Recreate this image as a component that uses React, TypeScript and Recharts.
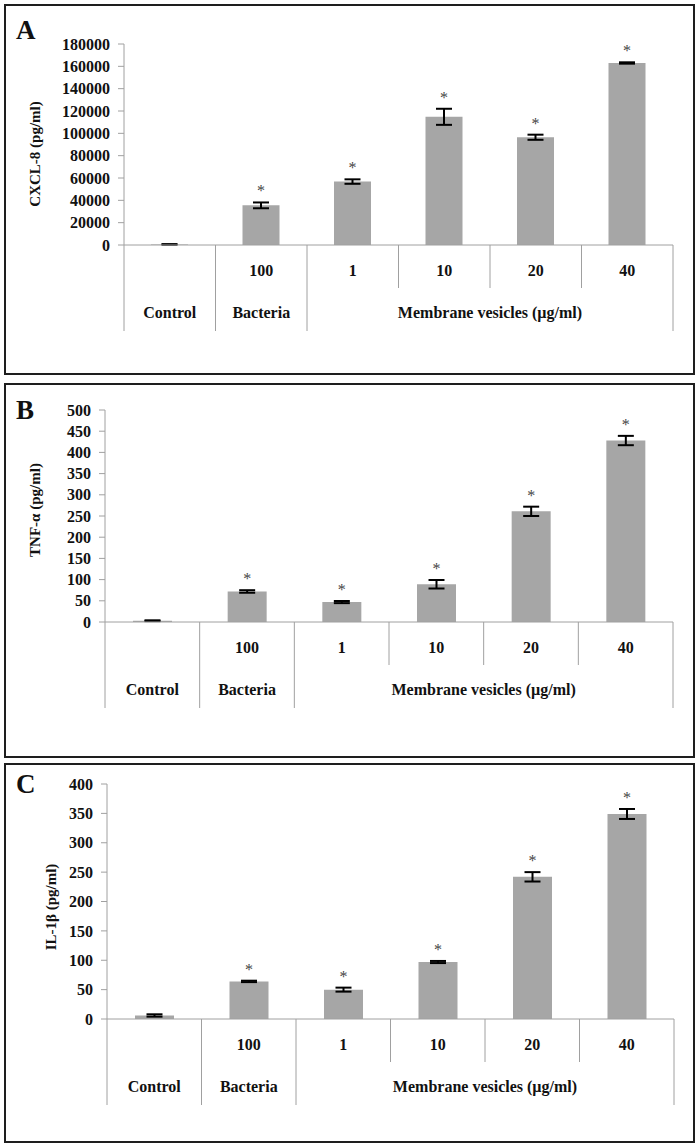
import React from 'react';
import { BarChart, Bar, XAxis, YAxis, ErrorBar, LabelList } from 'recharts';

const CATS = ['Control', 'Bacteria', 'MV1', 'MV10', 'MV20', 'MV40'];
const DOSES = ['', '100', '1', '10', '20', '40'];
const GROUPS = ['Control', 'Bacteria', 'Membrane vesicles (µg/ml)'];

const CXCL8 = [500, 35500, 56800, 114800, 96500, 163000];
const CXCL8_ERR = [300, 2600, 2000, 7200, 2300, 600];
const CXCL8_TICKS = [0, 20000, 40000, 60000, 80000, 100000, 120000, 140000, 160000, 180000];

const TNF = [3, 72, 47, 89, 261, 428];
const TNF_ERR = [1, 3, 2.5, 10, 11, 11];
const TNF_TICKS = [0, 50, 100, 150, 200, 250, 300, 350, 400, 450, 500];

const IL1B = [6, 64, 50, 97, 242, 349];
const IL1B_ERR = [2, 1.2, 3.4, 1.8, 8, 8.5];
const IL1B_TICKS = [0, 50, 100, 150, 200, 250, 300, 350, 400];

const SERIF = '"Liberation Serif", "Times New Roman", serif';
const GRAY = '#a6a6a6';
const LINE = '#a0a0a0';
const W = 700;

type PanelProps = {
  letter: string;
  title: string;
  values: number[];
  errs: number[];
  ticks: number[];
  top: number;
  height: number;
  plotTop: number;
  plotBottom: number;
  plotLeft: number;
  plotRight: number;
  barSize: number;
  border: { top: number; bottom: number };
  titleX: number;
  titleY: number;
  letterY: number;
};

function makeTick(axisY: number, band: number) {
  return (props: any) => {
    const { x, payload } = props;
    const i: number = payload && payload.index !== undefined ? payload.index : props.index;
    const left = x - band / 2;
    const els: React.ReactNode[] = [];
    els.push(
      <line key="l" x1={left} x2={left} y1={axisY} y2={axisY + (i >= 3 ? 43 : 86)} stroke={LINE} strokeWidth={1} />
    );
    if (i === CATS.length - 1) {
      els.push(
        <line key="r" x1={x + band / 2} x2={x + band / 2} y1={axisY} y2={axisY + 86} stroke={LINE} strokeWidth={1} />
      );
    }
    if (DOSES[i]) {
      els.push(
        <text key="d" x={x} y={axisY + 31} textAnchor="middle" fontFamily={SERIF} fontWeight="bold" fontSize={16} fill="#111">
          {DOSES[i]}
        </text>
      );
    }
    if (i <= 2) {
      const gx = i === 2 ? x + 1.5 * band : x;
      els.push(
        <text key="g" x={gx} y={axisY + 73} textAnchor="middle" fontFamily={SERIF} fontWeight="bold" fontSize={16} fill="#111">
          {GROUPS[i]}
        </text>
      );
    }
    return <g>{els}</g>;
  };
}

function Panel(p: PanelProps) {
  const data = CATS.map((c, i) => ({ cat: c, v: p.values[i], e: p.errs[i] }));
  const margin = {
    top: p.plotTop - p.top,
    bottom: p.top + p.height - p.plotBottom - 30,
    left: p.plotLeft - 60,
    right: W - p.plotRight,
  };
  const band = (p.plotRight - p.plotLeft) / CATS.length;
  const axisY = p.plotBottom - p.top;
  const star = (props: any) => {
    const { x, y, width, height, index, value } = props;
    if (index === 0 || index === undefined) return null;
    const idx = index;
    const errPx = value ? (height * p.errs[idx]) / value : 0;
    const errTop = y - errPx;
    return (
      <text x={x + width / 2} y={errTop - 6} textAnchor="middle" fontFamily={SERIF} fontSize={16} fill="#444">
        *
      </text>
    );
  };
  return (
    <>
      <div
        style={{
          position: 'absolute',
          left: 4,
          top: p.border.top,
          width: 691,
          height: p.border.bottom - p.border.top,
          border: '2px solid #1e1e1e',
          boxSizing: 'border-box',
          background: '#fff',
        }}
      />
      <div style={{ position: 'absolute', left: 0, top: p.top }}>
        <BarChart width={W} height={p.height} data={data} margin={margin} barCategoryGap={0}>
          <XAxis
            dataKey="cat"
            height={30}
            axisLine={{ stroke: LINE }}
            tickLine={false}
            interval={0}
            tick={makeTick(axisY, band)}
          />
          <YAxis
            width={60}
            domain={[0, p.ticks[p.ticks.length - 1]]}
            ticks={p.ticks}
            interval={0}
            axisLine={{ stroke: LINE }}
            tickLine={{ stroke: LINE }}
            tickSize={6}
            tickMargin={8}
            tick={{ fontSize: 16, fontWeight: 'bold', fill: '#111', fontFamily: SERIF }}
          />
          <Bar dataKey="v" fill={GRAY} barSize={p.barSize} isAnimationActive={false}>
            <ErrorBar dataKey="e" width={8} strokeWidth={2} stroke="#000" direction="y" />
            <LabelList dataKey="v" content={star} />
          </Bar>
        </BarChart>
      </div>
      <svg style={{ position: 'absolute', left: 0, top: 0, overflow: 'visible' }} width={W} height={1}>
        <text x={16} y={p.letterY} fontFamily={SERIF} fontWeight="bold" fontSize={27} fill="#111">
          {p.letter}
        </text>
        <text
          x={p.titleX}
          y={p.titleY}
          transform={`rotate(-90 ${p.titleX} ${p.titleY})`}
          textAnchor="middle"
          dominantBaseline="central"
          fontFamily={SERIF}
          fontWeight="bold"
          fontSize={15}
          fill="#111"
        >
          {p.title}
        </text>
      </svg>
    </>
  );
}

export default function App() {
  return (
    <div style={{ position: 'absolute', left: 0, top: 0, width: W, height: 1147, background: '#fff' }}>
      <Panel
        letter="A"
        title="CXCL-8 (pg/ml)"
        values={CXCL8}
        errs={CXCL8_ERR}
        ticks={CXCL8_TICKS}
        top={0}
        height={376}
        plotTop={44}
        plotBottom={245}
        plotLeft={124}
        plotRight={673}
        barSize={37}
        border={{ top: 4, bottom: 375 }}
        titleX={35}
        titleY={154}
        letterY={39}
      />
      <Panel
        letter="B"
        title="TNF-α (pg/ml)"
        values={TNF}
        errs={TNF_ERR}
        ticks={TNF_TICKS}
        top={380}
        height={380}
        plotTop={410}
        plotBottom={622}
        plotLeft={105}
        plotRight={673}
        barSize={39}
        border={{ top: 383, bottom: 758 }}
        titleX={35}
        titleY={510}
        letterY={419}
      />
      <Panel
        letter="C"
        title="IL-1β (pg/ml)"
        values={IL1B}
        errs={IL1B_ERR}
        ticks={IL1B_TICKS}
        top={760}
        height={387}
        plotTop={784}
        plotBottom={1019}
        plotLeft={107}
        plotRight={674}
        barSize={39}
        border={{ top: 763, bottom: 1143 }}
        titleX={51}
        titleY={907}
        letterY={793}
      />
    </div>
  );
}
